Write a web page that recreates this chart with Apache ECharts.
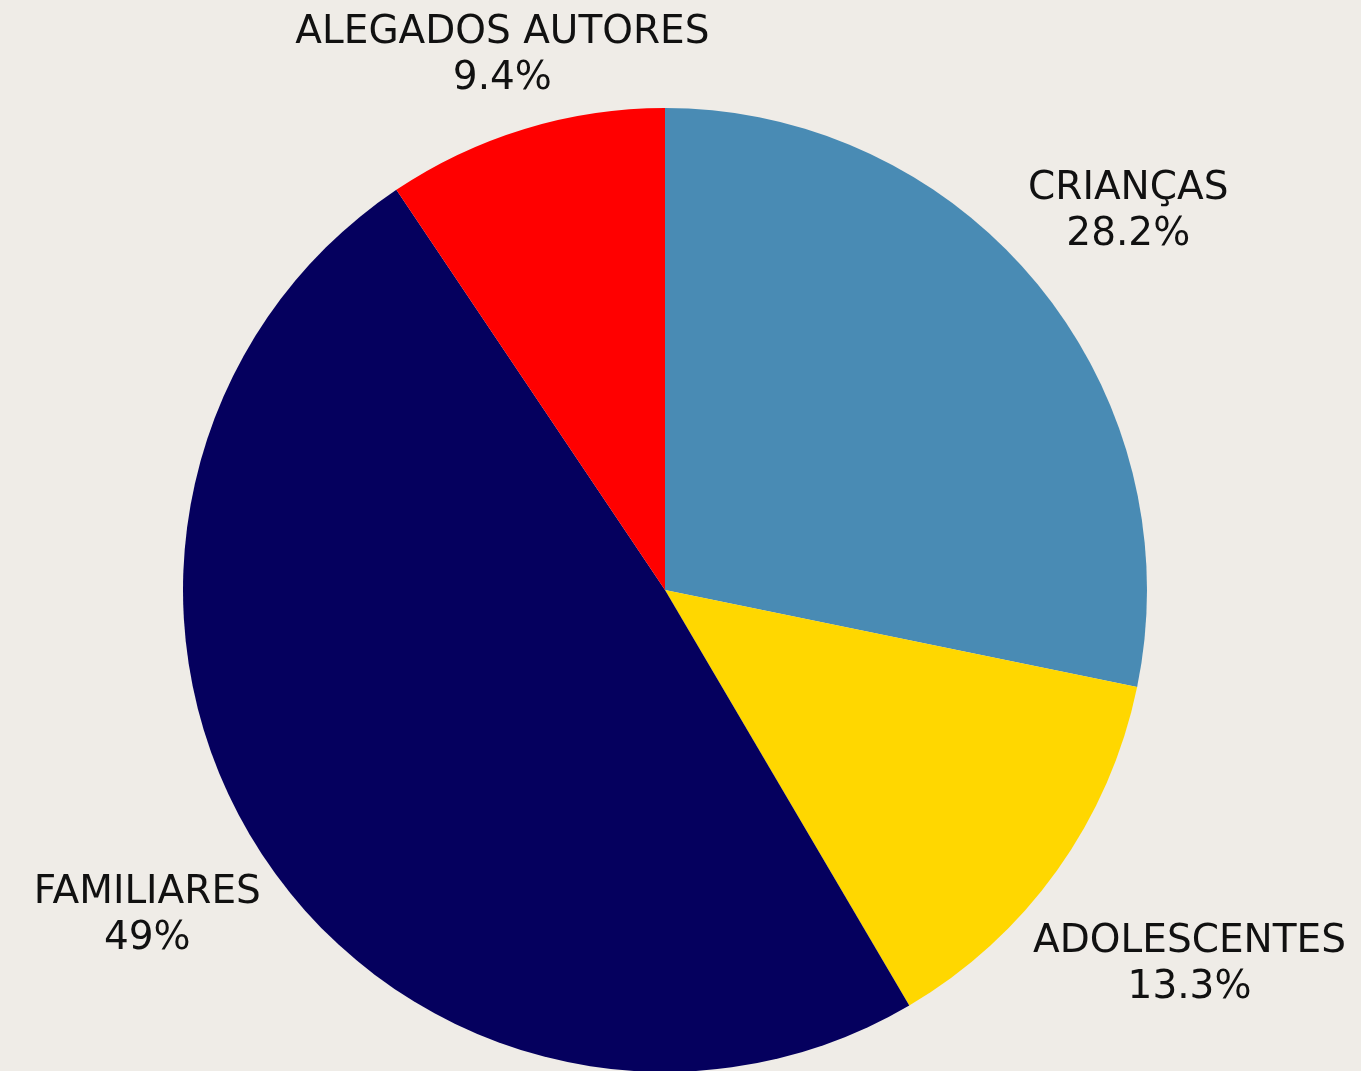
<!DOCTYPE html>
<html>
<head>
<meta charset="utf-8">
<script src="https://cdn.jsdelivr.net/npm/echarts@6/dist/echarts.min.js"></script>
<style>
  html, body { margin: 0; padding: 0; background: #efece7; }
  #chart { width: 1361px; height: 1071px; }
</style>
</head>
<body>
<div id="chart"></div>
<script>
const categories = ['CRIANÇAS', 'ADOLESCENTES', 'FAMILIARES', 'ALEGADOS AUTORES']
const values = [28.2, 13.3, 49, 9.4]
const colors = ['#498bb4', '#ffd700', '#05005e', '#ff0000']

// geometria do gráfico
const CX = 665
const CY = 590
const R = 482
const GAP = 9

const total = values.reduce((a, b) => a + b, 0)
const cum = []
values.reduce((acc, v, i) => { cum[i] = acc; return acc + v }, 0)

const options = {
  backgroundColor: '#efece7',
  animation: false,
  series: [
    {
      type: 'pie',
      center: [CX, CY],
      radius: [0, R],
      startAngle: 90,
      clockwise: true,
      avoidLabelOverlap: false,
      itemStyle: { borderWidth: 0 },
      label: {
        show: true,
        position: 'outside',
        color: '#111',
        fontFamily: 'DejaVu Sans',
        fontSize: 39,
        lineHeight: 46,
        align: 'center',
        formatter: p => p.name + '\n' + p.value + '%'
      },
      labelLine: { show: false },
      // rótulo centrado no raio do meio da fatia, fora do círculo
      labelLayout: function (p) {
        const i = p.dataIndex
        const mid = (cum[i] + values[i] / 2) / total * 2 * Math.PI
        const ux = Math.sin(mid)
        const uy = -Math.cos(mid)
        const w = p.labelRect.width
        const h = p.labelRect.height
        let d = R + GAP + w / 2 * Math.abs(ux) + h / 2 * Math.abs(uy)
        // não deixar sair pelo topo
        const minY = h / 2 + 10
        if (CY + d * uy < minY) d = (CY - minY) / -uy
        return { x: CX + d * ux, y: CY + d * uy, align: 'center', verticalAlign: 'middle' }
      },
      data: categories.map((name, i) => ({
        name: name,
        value: values[i],
        itemStyle: { color: colors[i] }
      }))
    }
  ]
}

const chart = echarts.init(document.getElementById('chart'))
chart.setOption(options)
window.addEventListener('resize', function () {
  chart && chart.resize()
})
</script>
</body>
</html>
